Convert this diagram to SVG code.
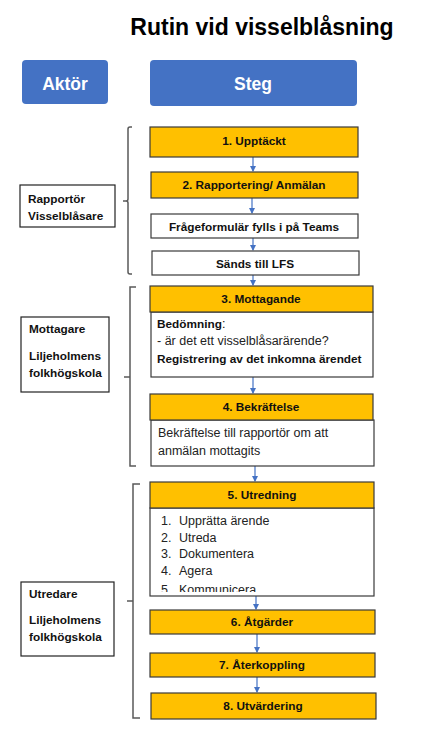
<svg xmlns="http://www.w3.org/2000/svg" width="424" height="752" viewBox="0 0 424 752">
<defs>
<style>
.t{font-family:"Liberation Sans",Arial,sans-serif;}
.b{font-weight:bold;}
.step{fill:#FFC000;stroke:#3a3a3a;stroke-width:1.2;}
.wbox{fill:#fff;stroke:#3a3a3a;stroke-width:1.2;}
.actor{fill:#fff;stroke:#222;stroke-width:1.2;}
.hdr{fill:#4472C4;}
.st{font-size:11.8px;font-weight:bold;fill:#111;text-anchor:middle;}
.lb{font-size:11.8px;font-weight:bold;fill:#111;}
.nr{font-size:12.5px;fill:#222;}
.br{fill:none;stroke:#595959;stroke-width:1.5;}
.ar{stroke:#4472C4;stroke-width:1.2;fill:none;marker-end:url(#ah);}
</style>
<marker id="ah" markerWidth="6" markerHeight="6" refX="5" refY="3" orient="auto" markerUnits="userSpaceOnUse">
<path d="M0,0 L6,3 L0,6 z" fill="#4472C4"/>
</marker>
<clipPath id="c5"><rect x="151" y="509" width="222" height="83"/></clipPath>
</defs>

<text class="t b" x="262" y="35" font-size="23" text-anchor="middle" fill="#000">Rutin vid visselblåsning</text>

<g id="hdr-aktor"><rect class="hdr" x="22" y="60" width="86" height="44" rx="4"/><text class="t b" x="65" y="90" font-size="17.5" fill="#fff" text-anchor="middle">Aktör</text></g>
<g id="hdr-steg"><rect class="hdr" x="150" y="60" width="207" height="46" rx="4"/><text class="t b" x="253" y="90" font-size="17.5" fill="#fff" text-anchor="middle">Steg</text></g>

<g id="brackets">
<path class="br" d="M132,127 H130 Q128,127 128,129 V199 Q128,201 126,201 H123 M126,201 Q128,201 128,203 V272 Q128,274 130,274 H132"/>
<path class="br" d="M136,287 H130 V466 H136 M130,377 H124"/>
<path class="br" d="M140,484 H133 V718 H140 M133,601 H127"/>
</g>

<g id="actor-rapportor"><rect class="actor" x="20" y="185" width="95" height="42"/><text class="t lb" x="28" y="203">Rapportör</text><text class="t lb" x="28" y="220">Visselblåsare</text></g>
<g id="actor-mottagare"><rect class="actor" x="21" y="317" width="88" height="75"/><text class="t lb" x="29" y="333">Mottagare</text><text class="t lb" x="29" y="360">Liljeholmens</text><text class="t lb" x="29" y="377">folkhögskola</text></g>
<g id="actor-utredare"><rect class="actor" x="21" y="582" width="93" height="74"/><text class="t lb" x="29" y="598">Utredare</text><text class="t lb" x="29" y="624">Liljeholmens</text><text class="t lb" x="29" y="641">folkhögskola</text></g>

<g id="connectors">
<line class="ar" x1="253" y1="157" x2="253" y2="171"/>
<line class="ar" x1="252" y1="198" x2="252" y2="213"/>
<line class="ar" x1="253" y1="238" x2="253" y2="250"/>
<line class="ar" x1="253" y1="275" x2="253" y2="285"/>
<line class="ar" x1="253" y1="377" x2="253" y2="393"/>
<line class="ar" x1="255" y1="466" x2="255" y2="481"/>
<line class="ar" x1="256" y1="596" x2="256" y2="609"/>
<line class="ar" x1="257" y1="634" x2="257" y2="652"/>
<line class="ar" x1="257" y1="677" x2="257" y2="692"/>
</g>

<g id="step1"><rect class="step" x="150" y="127" width="208" height="30"/><text class="t st" x="254" y="145">1. Upptäckt</text></g>
<g id="step2"><rect class="step" x="151" y="172" width="207" height="26"/><text class="t st" x="254" y="189">2. Rapportering/ Anmälan</text></g>
<g id="form"><rect class="wbox" x="151" y="214" width="207" height="24"/><text class="t st" x="254" y="231" font-size="11.5">Frågeformulär fylls i på Teams</text></g>
<g id="sands"><rect class="wbox" x="152" y="251" width="207" height="24"/><text class="t st" x="255" y="268">Sänds till LFS</text></g>

<g id="step3"><rect class="wbox" x="151" y="312" width="222" height="65"/><rect class="step" x="150" y="286" width="223" height="26"/><text class="t st" x="261" y="303">3. Mottagande</text>
<text class="t" x="157" y="328" font-size="12.5" fill="#111"><tspan font-weight="bold" font-size="11.8">Bedömning</tspan>:</text>
<text class="t nr" x="157" y="345">- är det ett visselblåsarärende?</text>
<text class="t lb" x="157" y="363">Registrering av det inkomna ärendet</text></g>

<g id="step4"><rect class="wbox" x="151" y="420" width="223" height="46"/><rect class="step" x="150" y="394" width="223" height="26"/><text class="t st" x="261" y="411">4. Bekräftelse</text>
<text class="t nr" x="158" y="437">Bekräftelse till rapportör om att</text>
<text class="t nr" x="158" y="455">anmälan mottagits</text></g>

<g id="step5"><rect class="wbox" x="150" y="508" width="224" height="88"/><rect class="step" x="150" y="482" width="224" height="26"/><text class="t st" x="262" y="499">5. Utredning</text>
<g clip-path="url(#c5)">
<text class="t nr" x="161" y="525">1.</text><text class="t nr" x="179" y="525">Upprätta ärende</text>
<text class="t nr" x="161" y="542">2.</text><text class="t nr" x="179" y="542">Utreda</text>
<text class="t nr" x="161" y="558">3.</text><text class="t nr" x="179" y="558">Dokumentera</text>
<text class="t nr" x="161" y="575">4.</text><text class="t nr" x="179" y="575">Agera</text>
<text class="t nr" x="161" y="594">5.</text><text class="t nr" x="179" y="594">Kommunicera</text>
</g></g>

<g id="step6"><rect class="step" x="150" y="610" width="225" height="24"/><text class="t st" x="262" y="626">6. Åtgärder</text></g>
<g id="step7"><rect class="step" x="150" y="653" width="225" height="24"/><text class="t st" x="262" y="669">7. Återkoppling</text></g>
<g id="step8"><rect class="step" x="151" y="693" width="225" height="26"/><text class="t st" x="263" y="710">8. Utvärdering</text></g>
</svg>
